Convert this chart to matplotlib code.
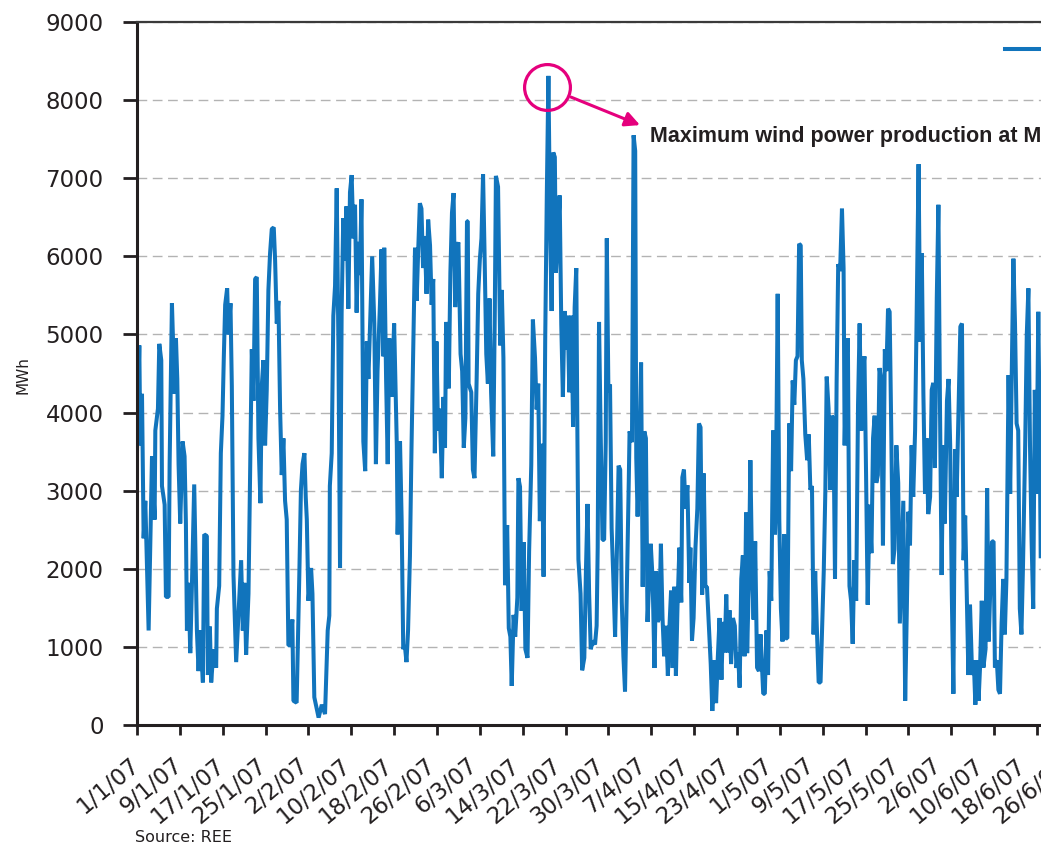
import matplotlib
matplotlib.use("Agg")
import matplotlib.pyplot as plt
import matplotlib.dates as mdates
import matplotlib.transforms as mtransforms
import numpy as np
import pandas as pd

# wind output: (days since 1 Jan 2007, MWh)
seg1_day = [0.0, 0.43, 0.62, 0.93, 1.24, 1.55, 2.17, 2.80, 3.29, 3.42, 3.91, 4.16, 4.53, 4.66, 5.16, 5.40, 5.90,
            6.09, 6.52, 7.02, 7.27, 7.52, 7.76, 8.07, 8.51, 8.88, 9.13, 9.32, 9.63, 9.94, 10.25, 10.68, 11.18,
            11.49, 11.80, 12.30, 12.55, 13.04, 13.23, 13.60, 13.85, 14.29, 14.78, 14.91, 15.34, 15.65, 15.96,
            16.21, 16.46, 16.83, 17.08, 17.45, 17.70, 18.01, 18.51, 18.94, 19.44, 19.75, 20.06, 20.37, 20.81,
            21.12, 21.43, 21.74, 22.05, 22.36, 22.67, 23.04, 23.29, 23.60, 23.91, 24.22, 24.53, 24.84, 25.16,
            25.53, 25.78, 26.09, 26.40, 26.71, 27.02, 27.33, 27.64, 27.95, 28.26]
seg1_mwh = [3500, 4860, 3580, 4240, 2390, 2870, 1210, 3440, 2630, 3770, 4050, 4880, 4670, 3060, 2820, 1640, 1640,
            3340, 5400, 4240, 4950, 4430, 3340, 2580, 3630, 3440, 2580, 1210, 1820, 920, 1780, 3080, 1210,
            690, 1210, 545, 2440, 2420, 640, 1260, 545, 970, 735, 1490, 1780, 3480, 3960,
            4720, 5380, 5590, 5000, 5400, 4340, 1920, 805, 1400, 2110, 1210, 1820, 900, 1680,
            3250, 4810, 4150, 5710, 5735, 3670, 2840, 4340, 4670, 3580, 4290, 5570, 6040, 6350,
            6370, 5950, 5140, 5430, 4050, 3200, 3670, 2870, 2630, 1020]

seg2_day = [28.6, 29.0, 29.2, 29.8, 30.3, 30.6, 30.9, 31.25, 31.5, 31.7, 32.0, 32.5, 32.75, 33.1, 33.9, 34.5,
            35.1, 35.6, 35.9, 36.0, 36.35, 36.65, 36.97, 37.28, 37.6, 37.9, 38.2, 38.5, 38.8, 39.1, 39.45,
            39.76, 40.07, 40.4, 40.7, 41.0, 41.3, 41.6, 41.9, 42.25, 42.6, 42.9, 43.2, 43.5, 43.9, 44.3, 44.6,
            44.9, 45.35, 45.65, 46.0, 46.15, 46.5, 46.8, 47.1, 47.55, 48.0, 48.5, 48.65, 49.1, 49.4, 49.7,
            50.0, 50.3, 50.6, 50.95, 51.25, 51.6, 51.9, 52.2, 52.5, 52.8, 53.1, 53.4, 53.7, 54.05, 54.35,
            54.7, 55.0, 55.3, 55.6, 55.9, 56.2, 56.5]
seg2_mwh = [1020, 1350, 310, 285, 1920, 3010, 3340, 3480, 2915, 2630, 1590, 2010, 1680, 355, 95, 260,
            140, 1210, 1400, 3060, 3480, 5240, 5620, 6870, 4860, 2010, 5280, 6490, 5950, 6640, 5330,
            6820, 7040, 6230, 6660, 5280, 6185, 5760, 6730, 3630, 3250, 4910, 4430, 5100, 6000, 5140, 3340,
            4530, 5380, 6090, 4720, 6110, 4430, 3340, 4950, 4200, 5140, 3580, 2440, 3630, 2630, 970,
            1020, 805, 1210, 2160, 3580, 4910, 6110, 5430, 6090, 6680, 6610, 5850, 6260, 5520, 6470,
            6140, 5380, 5710, 3480, 4910, 3770, 4050]

seg3_day = [56.9, 57.2, 57.5, 57.7, 58.2, 58.5, 58.8, 59.1, 59.4, 59.7, 60.0, 60.4, 60.7, 61.0, 61.3, 61.6,
            61.75, 61.9, 62.4, 62.7, 63.0, 63.4, 63.7, 64.0, 64.3, 64.6, 64.9, 65.2, 65.5, 65.8, 66.1, 66.5,
            66.8, 67.0, 67.4, 67.8, 68.1, 68.4, 68.7, 69.1, 69.4, 69.7, 69.95, 70.3, 70.6, 71.0, 71.2, 71.5,
            71.8, 72.2, 72.5, 72.9, 73.2, 73.6, 73.9, 74.3, 74.6, 74.9, 75.2, 75.6, 75.9, 76.2, 76.5, 76.8,
            77.1, 77.4, 77.7, 78.0, 78.2, 78.6, 78.9, 79.2, 79.5, 79.8, 80.1, 80.4, 80.7, 81.1, 81.4, 81.7,
            82.0, 82.2, 82.4, 82.8, 83.1, 83.5, 83.8, 84.1, 84.4, 84.7, 85.1]
seg3_mwh = [3160, 4200, 3550, 5160, 4310, 5790, 6560, 6810, 5350, 6120, 6180, 4750, 4530, 3550, 3930, 6450,
            6450, 4370, 4260, 3270, 3160, 4420, 5520, 5960, 6230, 7050, 5960, 4750, 4370, 5460, 4260, 3440,
            5350, 7030, 6890, 4860, 5570, 4700, 1790, 2560, 1240, 1130, 500, 1410, 1130, 1630, 3160, 3050,
            1460, 2340, 970, 860, 2230, 3330, 5190, 4700, 4040, 4370, 2610, 3600, 1900, 4920, 6780, 8310,
            6450, 5300, 7330, 7270, 5790, 6290, 6780, 5130, 4200, 5300, 4810, 5240, 4260, 5240, 3820, 5350,
            5850, 3820, 2120, 1680, 700, 860, 1960, 2830, 1680, 970, 1080]

seg4_day = [85.5, 85.8, 86.0, 86.25, 86.55, 86.9, 87.2, 87.5, 87.7, 88.0, 88.3, 88.6, 88.9, 89.25, 89.6,
            89.9, 90.2, 90.5, 90.8, 91.1, 91.4, 91.8, 91.95, 92.4, 92.7, 93.0, 93.2, 93.45, 93.8, 94.1, 94.4,
            94.7, 95.0, 95.3, 95.6, 95.9, 96.25, 96.6, 96.9, 97.2, 97.5, 97.8, 98.1, 98.4, 98.75, 99.1, 99.4,
            99.7, 100.0, 100.3, 100.6, 100.9, 101.25, 101.6, 101.8, 102.1, 102.4, 102.75, 103.1, 103.3,
            103.6, 103.9, 104.25, 104.6, 104.9, 105.2, 105.5, 105.8, 106.1, 106.4, 106.75, 107.1, 107.4,
            107.8, 108.1, 108.4, 108.75, 109.1, 109.4, 109.7, 110.0, 110.3, 110.6, 110.9, 111.25, 111.6,
            111.9, 112.2, 112.5, 112.8, 113.1, 113.4, 113.7]
seg4_mwh = [1030, 1270, 2270, 5160, 3760, 2370, 2370, 3620, 6230, 4260, 4360, 2520, 1920, 1130, 2270,
            3320, 3270, 1570, 880, 430, 1570, 3120, 3760, 3620, 7550, 7350, 3420, 2670, 3570, 4640, 1770,
            3760, 3670, 1320, 1820, 2320, 1870, 730, 1970, 1320, 1370, 2320, 1370, 880, 1270, 630, 1270,
            1720, 730, 1770, 630, 1520, 2270, 1570, 3170, 3270, 2770, 3070, 1820, 2270,
            1080, 1370, 2270, 2770, 3860, 3810, 1670, 3220, 1770, 1770, 1270, 780, 180,
            830, 280, 830, 1370, 580, 1320, 930, 1670, 930, 1470, 780, 1370, 1270,
            730, 930, 480, 1870, 2170, 880, 2720]

seg5_day = [113.9, 114.2, 114.5, 114.8, 115.1, 115.4, 115.75, 116.1, 116.4, 116.9, 117.2, 117.5, 117.8,
            118.1, 118.4, 118.75, 119.1, 119.25, 119.6, 119.9, 120.2, 120.5, 120.8, 121.1, 121.4, 121.75,
            122.1, 122.4, 122.7, 123.0, 123.3, 123.6, 123.9, 124.1, 124.4, 124.75, 125.1, 125.4, 125.7,
            126.0, 126.3, 126.6, 126.9, 127.25, 127.6, 127.9, 128.2, 128.5, 128.75, 129.1, 129.4, 129.7,
            130.0, 130.3, 130.6, 130.9, 131.25, 131.6, 131.9, 132.1, 132.4, 132.7, 133.0, 133.3, 133.6,
            133.9, 134.25, 134.6, 134.9, 135.2, 135.5, 135.8, 136.1, 136.4, 136.75, 137.1, 137.4, 137.7,
            138.0, 138.3, 138.6, 138.9, 139.25, 139.6, 139.9, 140.2, 140.5, 140.8, 141.1, 141.4, 141.75,
            142.1, 142.4]
seg5_mwh = [920, 1780, 3390, 2060, 1350, 2350, 735, 690, 1160, 400, 400, 1210, 640,
            1970, 1590, 3770, 2440, 2820, 5520, 2630, 1490, 1070, 2440, 1110, 1110, 3860,
            3250, 4410, 4100, 4670, 4720, 6160, 6140, 4670, 4430, 3720, 3390, 3720, 3010,
            3060, 1160, 1970, 1260, 545, 545, 1260, 1970, 3010, 4460, 4050, 3010, 3960,
            3910, 1870, 4380, 5900, 5810, 6610, 5850, 3580, 4620, 4950, 1780, 1590, 1040,
            2110, 1590, 4100, 5140, 3770, 4530, 4720, 3200, 1540, 2820, 2200, 3670, 3960,
            3100, 3200, 4570, 4430, 2300, 4810, 4530, 5330, 5290, 3770, 2060, 2250, 3580,
            3100, 1300]

seg6_day = [143.05, 143.4, 143.7, 144.0, 144.3, 144.6, 144.9, 145.25, 145.55, 145.9, 146.2, 146.5, 146.8,
            147.1, 147.4, 147.7, 148.05, 148.35, 148.65, 148.95, 149.3, 149.6, 149.9, 150.2, 150.5, 150.8,
            151.2, 151.5, 151.8, 152.1, 152.4, 152.7, 153.0, 153.3, 153.7, 154.0, 154.3, 154.6, 154.9,
            155.2, 155.5, 155.9, 156.2, 156.5, 156.8, 157.1, 157.4, 157.7, 158.0, 158.4, 158.7, 159.0,
            159.3, 159.6, 159.9, 160.15, 160.5, 160.8, 161.1, 161.4, 161.7, 162.0, 162.3, 162.7, 163.0,
            163.3, 163.6, 163.9, 164.2, 164.5, 164.8, 165.1, 165.4, 165.8, 166.1, 166.4, 166.7, 167.0,
            167.3, 167.6, 167.9, 168.25, 168.5, 168.7]
seg6_mwh = [2870, 310, 1450, 2730, 2300, 3580, 2920, 3770, 5290, 7180, 4910, 6040, 4240,
            2960, 3670, 2700, 2920, 4290, 4380, 3290, 5470, 6660, 4050, 1920, 3580, 2580,
            4150, 4430, 3580, 1680, 400, 3530, 2920, 3860, 5100, 5140, 2110, 2680, 1680,
            640, 1540, 640, 830, 260, 830, 310, 780, 1590, 735, 970, 3030, 1070,
            1780, 2350, 2350, 735, 830, 450, 400, 1300, 1870, 1160, 1870, 4480, 2960,
            4530, 5970, 5140, 3860, 3770, 1490, 1160, 2060, 3580, 5000, 5590, 3580, 2350,
            1490, 4290, 2960, 5290, 3770, 2160]

y_ticks = [0, 1000, 2000, 3000, 4000, 5000, 6000, 7000, 8000, 9000]
tick_dates = pd.date_range("2007-01-01", "2007-06-30", freq="8D")

day = np.concatenate([seg1_day, seg2_day, seg3_day, seg4_day, seg5_day, seg6_day])
mwh = np.concatenate([seg1_mwh, seg2_mwh, seg3_mwh, seg4_mwh, seg5_mwh, seg6_mwh])
start = mdates.date2num(pd.Timestamp("2007-01-01"))
x = start + day

blue = "#1174bc"
magenta = "#e5007d"
ink = "#231f20"

fig = plt.figure(figsize=(10.41, 8.55), dpi=100)
# axes runs past the right edge of the picture, like the cropped original
ax = fig.add_axes([137 / 1041, 130 / 855, 969.6 / 1041, 703 / 855])

ax.plot(x, mwh, color=blue, lw=2.9, solid_joinstyle="bevel", label="Wind power production")

ax.set_xlim(start, mdates.date2num(pd.Timestamp("2007-07-01")))
ax.set_ylim(0, 9000)
ax.set_yticks(y_ticks)
ax.set_xticks(mdates.date2num(tick_dates))
ax.set_xticklabels([f"{d.day}/{d.month}/07" for d in tick_dates], rotation=40,
                   ha="right", va="center", rotation_mode="anchor")

ax.tick_params(axis="y", length=10, width=2, pad=14, labelsize=16.5, labelcolor=ink, color=ink)
ax.tick_params(axis="x", length=7, width=2, pad=20, labelsize=16.5, labelcolor=ink, color=ink)

# in the original the date labels creep slightly left of their ticks towards the right
for k, lab in enumerate(ax.get_xticklabels()):
    lab.set_transform(lab.get_transform() +
                      mtransforms.ScaledTranslation(-0.68 * k / 100, 0, fig.dpi_scale_trans))

ax.grid(axis="y", linestyle=(0, (7, 4)), color="#b3b3b3", lw=1.0)
ax.set_axisbelow(True)

for side in ["left", "bottom"]:
    ax.spines[side].set_linewidth(2.2)
    ax.spines[side].set_color(ink)
ax.spines["top"].set_linewidth(1.6)
ax.spines["top"].set_color("#3a3a3a")
ax.spines["right"].set_visible(False)

fig.text(23 / 1041, 1 - 375 / 855, "MWh", rotation=90, ha="center", va="center",
         fontsize=11, color=ink)
fig.text(135 / 1041, 1 - 842 / 855, "Source: REE", fontsize=11.5, color=ink, va="baseline")

# circle, arrow and note around the record hour
i = int(np.argmax(mwh))
px, py = x[i], mwh[i]
ring = mtransforms.offset_copy(ax.transData, fig=fig, x=-1.4, y=-11, units="dots")
ax.plot(px, py, marker="o", ms=33, mfc="none", mec=magenta, mew=2.3, transform=ring, clip_on=False)
head = mtransforms.offset_copy(ax.transData, fig=fig, x=91.6, y=-49.2, units="dots")
ax.annotate("", xy=(px, py), xycoords=head, xytext=(-69, 28), textcoords="offset pixels",
            arrowprops=dict(arrowstyle="-|>", color=magenta, lw=2.2, mutation_scale=22,
                            shrinkA=0, shrinkB=0))
ax.annotate("Maximum wind power production at March 19th, 2007", xy=(px, py),
            xytext=(101.6, -66.2), textcoords="offset pixels", ha="left", va="baseline",
            fontsize=15.5, fontweight="bold", color=ink,
            family=["Liberation Sans", "DejaVu Sans"], annotation_clip=False)

ax.legend(loc="center left", bbox_to_anchor=(1005 / 1041, 1 - 50 / 855),
          bbox_transform=fig.transFigure, frameon=False, borderpad=0, borderaxespad=0,
          handlelength=3, fontsize=14)

fig.savefig("out.png", dpi=100)
